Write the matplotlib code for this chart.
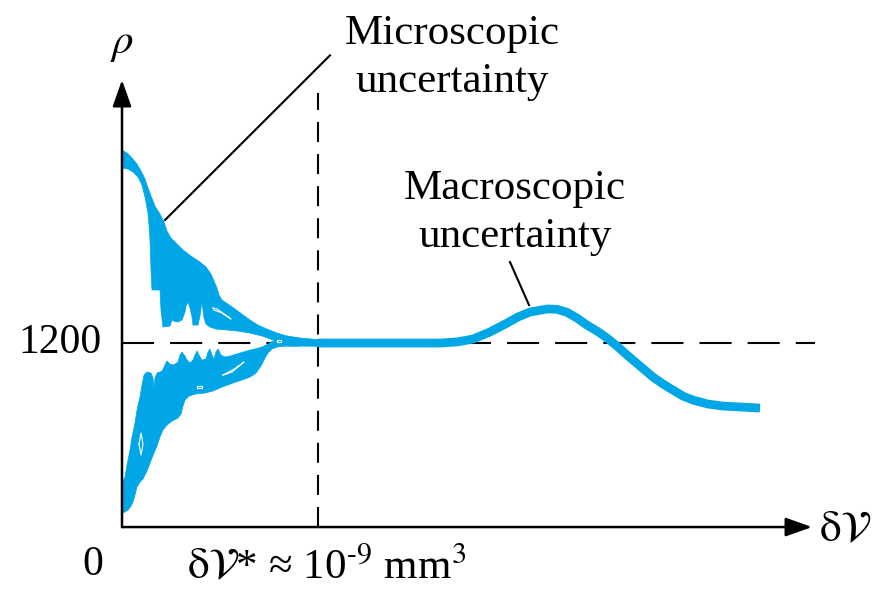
import matplotlib
matplotlib.use('Agg')
from matplotlib import pyplot as plt

plt.rcParams['font.family'] = ['Liberation Serif', 'DejaVu Serif']
plt.rcParams['mathtext.fontset'] = 'stix'

BLUE = '#00a6e6'
rho_ref = 1200
dv_star = 196

# upper branch of the microscopic scatter (x, rho): top edge, tail, jagged lower edge
upper_x = [0, 5, 10, 15, 19, 23, 26, 29, 33, 38, 42, 45, 49, 55, 61, 69, 78, 84, 89, 92,
           95, 97, 100, 106, 113, 121, 128, 136, 145, 155, 165, 178, 196, 200,
           200, 178, 168, 158, 151, 140, 128, 116, 105, 94, 88, 84, 82, 81, 80, 79, 78,
           76, 71, 70, 68, 66, 64, 63, 60, 56, 52, 50, 48, 41, 39, 38, 30, 29, 28, 27,
           26, 23, 20, 16, 11, 6, 0]
upper_rho = [2459, 2439, 2407, 2367, 2322, 2270, 2211, 2159, 2093, 2041, 1989, 1930, 1885,
             1846, 1807, 1767, 1728, 1696, 1650, 1604, 1559, 1513, 1480, 1454, 1422, 1383,
             1350, 1317, 1291, 1265, 1246, 1233, 1222, 1222,
             1178, 1180, 1180, 1193, 1220, 1246, 1265, 1278, 1285, 1291, 1304, 1324, 1363,
             1415, 1461, 1428, 1376, 1317, 1317, 1370, 1428, 1467, 1441, 1402, 1350, 1337,
             1343, 1350, 1311, 1304, 1415, 1546, 1546, 1676, 1872, 1970, 2048, 2152, 2230,
             2283, 2315, 2335, 2341]

# lower branch: jagged top edge right to left, then smooth bottom edge left to right
lower_x = [151, 146, 140, 133, 128, 118, 108, 103, 99, 96, 94, 92, 90, 88, 86, 84, 80, 77,
           75, 73, 71, 68, 65, 63, 60, 58, 56, 52, 48, 45, 43, 40, 35, 33, 32, 31, 29, 25,
           22, 20, 18, 15, 13, 10, 8, 5, 3, 0,
           0, 3, 6, 9, 11, 13, 15, 18, 21, 25, 28, 32, 35, 38, 41, 45, 50, 56, 59, 61, 63,
           67, 73, 83, 91, 100, 111, 120, 128, 134, 139, 143, 146, 150, 155, 165, 178]
lower_rho = [1213, 1193, 1174, 1161, 1154, 1135, 1115, 1109, 1122, 1161, 1141, 1096, 1122,
             1161, 1141, 1096, 1089, 1122, 1148, 1122, 1089, 1070, 1089, 1115, 1141, 1122,
             1076, 1057, 1063, 1083, 1057, 1017, 1004, 972, 907, 972, 1004, 1011, 991, 926,
             848, 763, 678, 587, 502, 404, 326, 287,
             91, 98, 111, 137, 163, 209, 261, 293, 313, 365, 417, 483, 528, 587, 633, 665,
             691, 711, 737, 789, 828, 854, 867, 874, 887, 913, 939, 959, 978, 1004, 1050,
             1102, 1135, 1161, 1174, 1180, 1180]

# small white holes inside the scatter
holes = [
    ([91, 95, 109, 100, 92, 91], [1428, 1422, 1357, 1396, 1415, 1428]),
    ([101, 112, 122, 110, 101], [991, 1030, 1076, 1011, 991]),
    ([17, 19, 21, 19, 17], [540, 613, 540, 470, 540]),
    ([155, 159, 159, 155, 155], [1208, 1208, 1218, 1218, 1208]),
    ([75, 80, 80, 75, 75], [908, 908, 918, 918, 908]),
]

# macroscopic curve
macro_x = [196, 278, 318, 335, 351, 368, 385, 396, 408, 425, 435, 445, 455, 465, 475, 485,
           495, 505, 518, 531, 541, 551, 561, 571, 586, 601, 618, 638]
macro_rho = [1200, 1200, 1200, 1207, 1226, 1272, 1330, 1370, 1402, 1422, 1420, 1400, 1363,
             1317, 1278, 1233, 1180, 1122, 1050, 978, 933, 893, 854, 828, 802, 789, 783, 776]

fig = plt.figure(figsize=(8.92, 5.89), dpi=100)
ax = fig.add_axes([0, 0, 1, 1])
ax.set_xlim(-122, 770)
ax.set_ylim(-404, 3437)
ax.axis('off')

# reference lines
ax.plot([0, 693], [rho_ref, rho_ref], color='k', lw=1.5, linestyle=(0, (15.4, 7.7)), zorder=1)
ax.plot([dv_star, dv_star], [0, 2830], color='k', lw=1.5, linestyle=(0, (9.6, 5.8)), zorder=1)

# scatter and curve
ax.fill(upper_x, upper_rho, color=BLUE, lw=0.5, zorder=2)
ax.fill(lower_x, lower_rho, color=BLUE, lw=0.5, zorder=2)
for hx, hy in holes:
    ax.plot(hx, hy, color='white', lw=0.8, zorder=3)
ax.plot(macro_x, macro_rho, color=BLUE, lw=6.3, solid_capstyle='butt',
        solid_joinstyle='round', zorder=2)

# axes with arrows
arrow = dict(arrowstyle='-|>,head_length=0.9,head_width=0.32',
             mutation_scale=18, color='k', lw=1.8, shrinkA=0, shrinkB=0)
ax.annotate('', xy=(0, 2915), xytext=(0, 0), arrowprops=arrow)
ax.annotate('', xy=(690, 0), xytext=(0, 0), arrowprops=arrow)

# leader lines
ax.plot([43, 208], [2002, 3076], color='k', lw=1.5)
ax.plot([407, 388], [1448, 1728], color='k', lw=1.5)

fs = 31
ax.text(330, 3060, 'Microscopic\nuncertainty', fontsize=fs, ha='center', va='center',
        linespacing=1.3)
ax.text(393, 2050, 'Macroscopic\nuncertainty', fontsize=fs, ha='center', va='center',
        linespacing=1.3)
ax.text(-20, rho_ref, '1200', fontsize=30, ha='right', va='center')
ax.text(-29, -248, '0', fontsize=30, ha='center', va='center')
ax.text(0, 3143, r'$\rho$', fontsize=fs, ha='center', va='center')
ax.text(723, -20, r'$\mathrm{\delta}\mathcal{V}$', fontsize=fs, ha='center', va='center')
ax.text(205, -262, r'$\mathrm{\delta}\mathcal{V}$* ≈ 10$^{\text{-9}}$ mm$^{\text{3}}$',
        fontsize=fs, ha='center', va='center')

fig.savefig('out.png', dpi=100)
